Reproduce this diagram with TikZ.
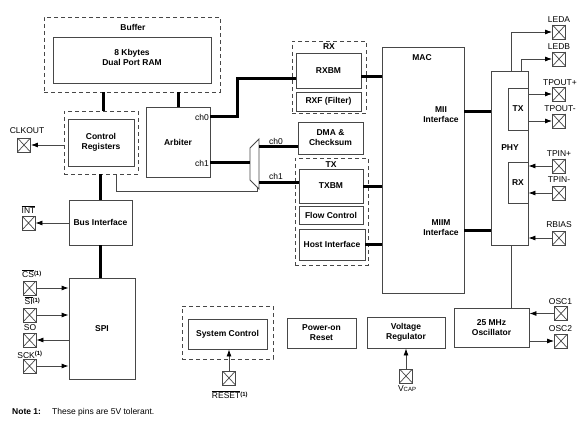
\documentclass[tikz,border=0pt]{standalone}
\usepackage{fontspec}
\setmainfont{Liberation Sans}
\usetikzlibrary{arrows.meta,calc}
\newcommand\myfs{\fontsize{8.5}{10}\selectfont}
\newcommand\smfs{\fontsize{6}{7}\selectfont}
\definecolor{linec}{HTML}{474747}
\tikzset{
 blk/.style={draw=linec, line width=0.85pt, inner sep=0pt, align=center, font=\myfs\bfseries},
 dbox/.style={draw=linec, line width=0.9pt, dash pattern=on 4pt off 3pt, inner sep=0pt},
 pin/.style={draw=linec, line width=0.85pt, minimum width=13pt, minimum height=14pt, inner sep=0pt,
   path picture={\draw[line width=0.7pt,linec] (path picture bounding box.north west) -- (path picture bounding box.south east) (path picture bounding box.south west) -- (path picture bounding box.north east);}},
 bus/.style={line width=3pt, black},
 wire/.style={draw=linec, line width=0.85pt},
 arr/.style={wire, -{Latex[length=7pt,width=5pt,color=black]}},
 lbl/.style={font=\myfs, inner sep=0pt},
 blbl/.style={font=\myfs\bfseries, inner sep=0pt, align=center},
}
\begin{document}
\begin{tikzpicture}[x=1pt,y=-1pt]
\useasboundingbox (0,0) rectangle (581,425);
% dashed groups
\node[dbox, minimum width=176pt, minimum height=75pt] (bufdash) at (132,54.5) {};
\node[blbl] (buflbl) at (133,27) {Buffer};
\node[dbox, minimum width=74pt, minimum height=63pt] (ctrldash) at (101,142.5) {};
\node[dbox, minimum width=74pt, minimum height=72pt] (rxdash) at (329,77) {};
\node[blbl] (rxlbl) at (329,47) {RX};
\node[dbox, minimum width=73pt, minimum height=107pt] (txdash) at (331.5,211.5) {};
\node[blbl] (txlbl) at (331,165) {TX};
\node[dbox, minimum width=91pt, minimum height=53pt] (sysdash) at (227.5,332.5) {};
% blocks
\node[blk, minimum width=158pt, minimum height=46pt] (ram) at (132,60) {};
\node[blbl] (ramlbl) at (132,57) {8 Kbytes\\Dual Port RAM};
\node[blk, minimum width=66pt, minimum height=47pt] (ctrl) at (101,142.5) {Control\\Registers};
\node[blk, minimum width=64pt, minimum height=70pt] (arbiter) at (178,142) {Arbiter};
\node[lbl, anchor=east] (arbch0) at (209,117) {ch0};
\node[lbl, anchor=east] (arbch1) at (209,163) {ch1};
\node[blk, minimum width=63pt, minimum height=45pt] (busif) at (100.5,222.5) {Bus Interface};
\node[blk, minimum width=66pt, minimum height=101pt] (spi) at (102,328.5) {SPI};
\node[blk, minimum width=65pt, minimum height=35pt] (rxbm) at (328.5,70.5) {RXBM};
\node[blk, minimum width=65pt, minimum height=19pt] (rxf) at (328.5,101.5) {RXF (Filter)};
\node[blk, minimum width=65pt, minimum height=32pt] (dma) at (330.5,138) {DMA \&\\Checksum};
\node[blk, minimum width=64pt, minimum height=34pt] (txbm) at (331,186) {TXBM};
\node[blk, minimum width=64pt, minimum height=18pt] (flow) at (331,215) {Flow Control};
\node[blk, minimum width=66pt, minimum height=31pt] (hostif) at (332,244.5) {Host Interface};
\node[blk, minimum width=82pt, minimum height=246pt] (mac) at (423,170) {};
\node[blbl] (maclbl) at (422,58) {MAC};
\node[blbl] (miilbl) at (441,115) {MII\\Interface};
\node[blbl] (miimlbl) at (441,228) {MIIM\\Interface};
\node[blk, minimum width=37pt, minimum height=174pt] (phy) at (509.5,158) {};
\node[blbl] (phylbl) at (510,148) {PHY};
\node[blk, minimum width=20pt, minimum height=42pt] (phytx) at (518,109) {TX};
\node[blk, minimum width=20pt, minimum height=41pt] (phyrx) at (518,182.5) {RX};
\node[blk, minimum width=79pt, minimum height=30pt] (sysctl) at (227.5,334) {System Control};
\node[blk, minimum width=69pt, minimum height=30pt] (por) at (321.5,333) {Power-on\\Reset};
\node[blk, minimum width=78pt, minimum height=31pt] (vreg) at (406,332.5) {Voltage\\Regulator};
\node[blk, minimum width=75pt, minimum height=39pt] (osc) at (491.5,327.5) {25 MHz\\Oscillator};
% pins
\node[pin] (clkout) at (24,145) {};
\node[lbl] (clkoutl) at (27,131) {CLKOUT};
\node[pin] (int) at (28.5,223) {};
\node[lbl] (intl) at (28.5,210) {$\overline{\hbox{INT}}$};
\node[pin] (cs) at (29.5,288) {};
\node[lbl] (csl) at (32,274) {$\overline{\hbox{CS}}$\textsuperscript{\bfseries(1)}};
\node[pin] (si) at (29.5,315) {};
\node[lbl] (sil) at (32.5,301) {$\overline{\hbox{SI}}$\textsuperscript{\bfseries(1)}};
\node[pin] (so) at (29.5,340) {};
\node[lbl] (sol) at (30,328) {SO};
\node[pin] (sck) at (29.5,366) {};
\node[lbl] (sckl) at (30,355) {SCK\textsuperscript{\bfseries(1)}};
\node[pin] (leda) at (559,32) {};
\node[lbl] (ledal) at (559,20) {LEDA};
\node[pin] (ledb) at (559,59) {};
\node[lbl] (ledbl) at (559,47) {LEDB};
\node[pin] (tpoutp) at (559,94) {};
\node[lbl] (tpoutpl) at (560,83) {TPOUT+};
\node[pin] (tpoutm) at (559,121) {};
\node[lbl] (tpoutml) at (560,109) {TPOUT-};
\node[pin] (tpinp) at (559,166) {};
\node[lbl] (tpinpl) at (559,154) {TPIN+};
\node[pin] (tpinm) at (559,193) {};
\node[lbl] (tpinml) at (559,180) {TPIN-};
\node[pin] (rbias) at (559,238) {};
\node[lbl] (rbiasl) at (559,225) {RBIAS};
\node[pin] (osc1) at (561,313.5) {};
\node[lbl] (osc1l) at (560.5,302) {OSC1};
\node[pin] (osc2) at (561,341) {};
\node[lbl] (osc2l) at (560.5,329) {OSC2};
\node[pin] (reset) at (229,378) {};
\node[lbl] (resetl) at (230,395) {$\overline{\hbox{RESET}}$\textsuperscript{\bfseries(1)}};
\node[pin] (vcap) at (406,376) {};
\node[lbl] (vcapl) at (407,389) {V{\smfs CAP}};
% buses
\draw[bus] ([xshift=2pt]ctrldash.north) -- ([xshift=2pt]ctrldash.north |- bufdash.south);
\draw[bus] (arbiter.north) -- (arbiter.north |- bufdash.south);
\coordinate (bend0) at (237,79);
\draw[bus] (arbiter.east |- arbch0) -| (bend0) -- (bend0 -| rxbm.west);
\coordinate (m1) at (259,139);
\coordinate (m2) at (250,148);
\coordinate (m3) at (250,180);
\coordinate (m4) at (259,189);
\draw[wire] (m1) -- (m2) -- (m3) -- (m4) -- cycle;
\coordinate (muxin) at (250,163);
\draw[bus] (arbiter.east |- muxin) -- (muxin);
\coordinate (muxo0) at (259,147);
\draw[bus] (muxo0) -- (muxo0 -| dma.west);
\node[lbl] (mch0) at (276,141) {ch0};
\coordinate (muxo1) at (259,182);
\draw[bus] (muxo1) -- (muxo1 -| txbm.west);
\node[lbl] (mch1) at (276,176) {ch1};
\coordinate (muxsel) at (257,187);
\coordinate (selc) at (257,191);
\draw[wire] ([xshift=15pt]ctrldash.south) |- (selc) -- (muxsel);
\draw[bus] (busif.north) -- (busif.north |- ctrldash.south);
\draw[bus] (busif.south) -- (busif.south |- spi.north);
\draw[bus] ([yshift=-6.5pt]rxbm.east) -- ([yshift=-6.5pt]rxbm.east -| mac.west);
\draw[bus] (txbm.east) -- (txbm.east -| mac.west);
\draw[bus] (hostif.east) -- (hostif.east -| mac.west);
\coordinate (mii) at (0,112);
\coordinate (miim) at (0,230);
\draw[bus] (mac.east |- mii) -- (phy.west |- mii);
\draw[bus] (mac.east |- miim) -- (phy.west |- miim);
% pin wires
\draw[arr] (ctrldash.west |- clkout) -- (clkout.east);
\draw[arr] (busif.west |- int) -- (int.east);
\draw[arr] (cs.east) -- (spi.west |- cs);
\draw[arr] (si.east) -- (spi.west |- si);
\draw[arr] (spi.west |- so) -- (so.east);
\draw[arr] (sck.east) -- (spi.west |- sck);
\draw[arr] ([xshift=1.5pt]phy.north) |- (leda.west);
\draw[arr] ([xshift=11.5pt]phy.north) |- (ledb.west);
\draw[arr] (phytx.east |- tpoutp) -- (tpoutp.west);
\draw[arr] (phytx.east |- tpoutm) -- (tpoutm.west);
\draw[arr] (tpinp.west) -- (phyrx.east |- tpinp);
\draw[arr] (tpinm.west) -- (phyrx.east |- tpinm);
\draw[arr] (rbias.west) -- (phy.east |- rbias);
\draw[wire] ([xshift=1.5pt]phy.south) -- ([xshift=1.5pt]phy.south |- osc.north);
\draw[arr] (osc1.west) -- (osc.east |- osc1);
\draw[arr] (osc.east |- osc2) -- (osc2.west);
\draw[arr] (reset.north) -- (reset.north |- sysctl.south);
\draw[arr] (vcap.north) -- (vcap.north |- vreg.south);
% note
\node[lbl, anchor=base west, font=\myfs\bfseries] (note) at (12,414) {Note 1:};
\node[lbl, anchor=base west] (notetext) at (52,414) {These pins are 5V tolerant.};
\end{tikzpicture}
\end{document}
